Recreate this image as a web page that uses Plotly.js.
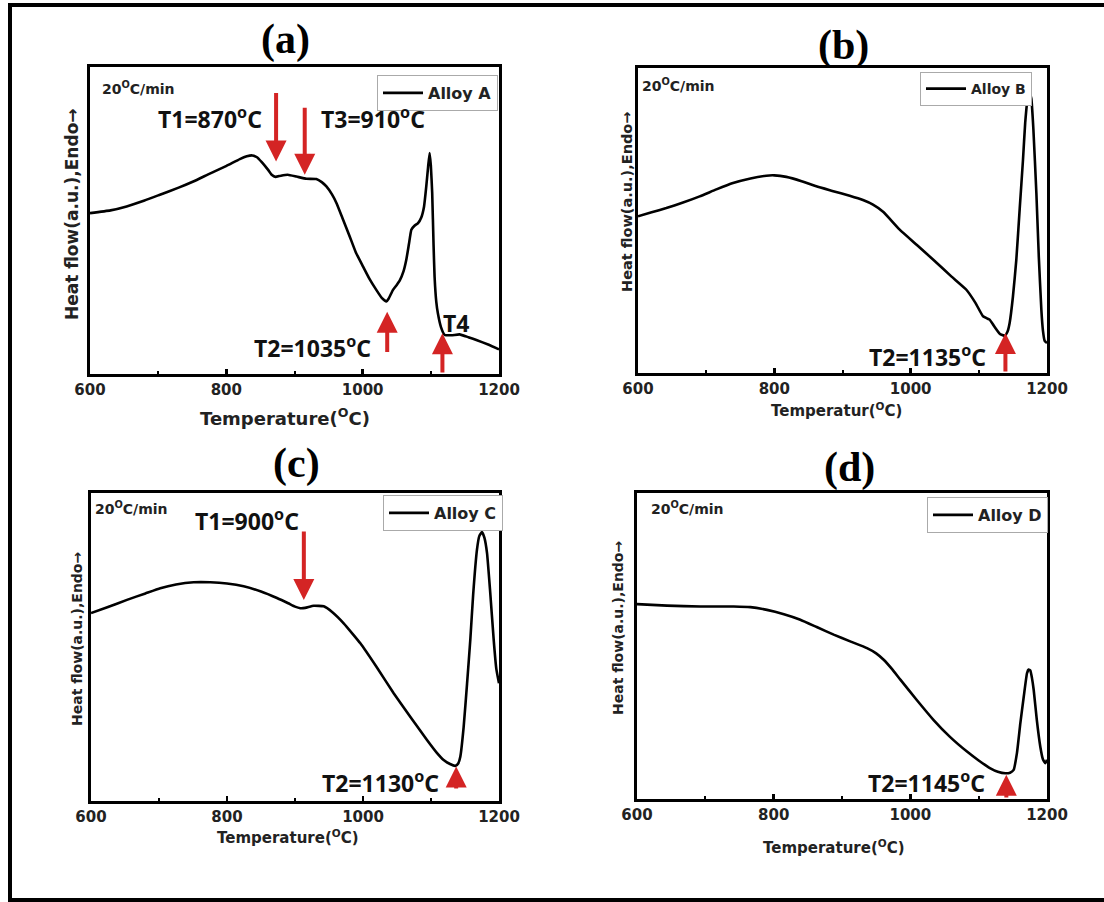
<!DOCTYPE html>
<html>
<head>
<meta charset="utf-8">
<script src="https://cdn.plot.ly/plotly-3.0.1.min.js"></script>
<style>
html,body{margin:0;padding:0;background:#fff;}
#chart{width:1104px;height:902px;}
</style>
</head>
<body>
<div id="chart"></div>
<script>
// ---------- DATA ----------
const tempA = [600,630,653.7,680,702.6,730,751.5,775,800.3,819.8,830,838,845,852,861.3,867,872,880,890,903,917.6,932,940,946.8,955,961.5,970,981,990,1000.6,1010,1020,1028,1034.8,1038,1044.5,1050,1054.3,1060,1064,1068,1071.4,1076,1081,1086,1090,1093.3,1096,1098.2,1100,1102,1104,1105.5,1108,1110.4,1115,1120,1130,1142,1155,1166.8,1185,1200];
const heatA = [52.4,53.3,54.6,56.5,58.4,60.7,62.7,65.2,67.8,70,70.9,71.2,70.6,69,66.5,64.8,64.2,64.6,64.9,64.3,63.6,63.5,62.5,61.1,58.5,55.7,51,44.8,39.6,35,31,27.4,24.8,23.6,24.5,27.4,29,30.4,33.5,37.2,42.5,47,48.3,49.1,51,54.5,61.1,67.5,72,68,58.9,42,31.7,23.5,19.7,15.2,12.8,12.6,12.9,12,11.1,9.5,8];

const tempB = [600,620,641.6,665,690.5,715,739.4,765,788.3,800,817.6,840,861.6,885,910.5,930,944.7,960,983.9,1010,1032.8,1060,1081.7,1095,1106.1,1112,1115.9,1122,1130.6,1138,1142,1145.2,1150,1155,1160,1164.8,1168,1172.1,1174.5,1177,1180,1184.4,1188,1191.7,1194,1196.6,1200];
const heatB = [51.4,52.7,54.1,55.8,57.9,60.2,62.3,63.8,64.7,64.8,64.3,62.9,61.2,59.7,58.1,56.7,55.2,52.8,47,41.8,37.2,31.6,27.3,23,18.6,17.9,17.5,15.5,12.9,12.2,13.5,16.4,25,37.2,54,70,82,90.7,91.8,90,80,59,38,20.8,14,10.5,9.8];

const tempC = [600,625,652.9,680,701.9,725,750.9,775.5,800,824.5,850,873.5,890,900,907.8,915,927.5,942.2,955,971.6,985,996.1,1020,1045.1,1070,1094.1,1108,1118.6,1128,1135.8,1140,1143.1,1148,1153,1157.8,1162,1167.6,1171,1175,1178.5,1182.4,1187,1192.2,1196,1200];
const heatC = [61,63,65.3,67.4,69.1,70.3,71,71,70.6,69.7,68,65.9,64.2,63.1,62.6,62.7,63.4,63.2,61.3,57.7,54.2,51.2,43.5,35,27.2,19.8,15.8,13.3,12,11.4,12.2,14.4,24,38,52.3,67,81.6,86,87.3,85.5,80.5,68,52.3,43,38.2];

const tempD = [600,643.9,692.7,741.5,765.9,790.2,815,839,863,887.8,912,936.6,950,961,973,985.4,1010,1034.1,1058,1082.9,1100,1117.1,1128,1139,1146,1151.2,1156,1161,1166,1170.7,1173,1175.6,1178,1180.5,1185,1190.2,1194,1197.6,1200];
const heatD = [63.7,63.2,62.9,62.9,62.7,61.8,60.4,58.6,56.2,53.7,51.5,49.3,47.6,45.5,42.5,39,32.2,25.8,20.3,15.5,12.6,10,8.9,8.4,8.6,9.5,15,24.8,33.5,41.1,42.3,42,39.5,35.7,26,17.1,13,11.7,12.8];

const alloyNames = ['Alloy A','Alloy B','Alloy C','Alloy D'];
const panelLabels = ['(a)','(b)','(c)','(d)'];
const xTitles = ['Temperature(<sup>O</sup>C)','Temperatur(<sup>O</sup>C)','Temperature(<sup>O</sup>C)','Temperature(<sup>O</sup>C)'];
const yTitle = 'Heat flow(a.u.),Endo\u2192';
const rateText = '20<sup>O</sup>C/min';
const xTickVals = [600,800,1000,1200];
const xMinorVals = [700,900,1100];

// transition markers: panel index, arrow tip (x,y), arrow tail y
const markPanel = [0,0,0,0,1,2,2,3];
const markTipX  = [873,915,1036,1117,1139,913,1137,1140.5];
const markTipY  = [69.2,64.9,20.3,13.3,13.1,65.3,11.2,7.9];
const markTailY = [92,87.2,6.7,0,0,88,3.6,0];

const labelPanel = [0,0,0,0,1,2,2,3];
const labelText  = ['T1=870<sup>o</sup>C','T3=910<sup>o</sup>C','T2=1035<sup>o</sup>C','T4','T2=1135<sup>o</sup>C','T1=900<sup>o</sup>C','T2=1130<sup>o</sup>C','T2=1145<sup>o</sup>C'];
const labelX     = [776,1015,927,1137,1025,830,1025.5,1024];
const labelY     = [83.4,83.4,8.9,16.5,5.5,91.3,6.3,5.7];

// ---------- LAYOUT ----------
const W = 1104, H = 902;
const px2x = p => p / W;
const px2y = p => 1 - p / H;

const boxes = [ // pixel boxes of plot areas [left, right, top, bottom]
  [90, 499, 67, 374],
  [638, 1047, 68, 373],
  [91, 499, 493, 801],
  [637, 1047, 493, 799]
];
const tickFont = [15,15,15,15];
const xTitleFont = [18,15,15,15];
const yTitleFont = [17,14.5,14,14];
const xTitlePos = [[285,417],[836,410],[288,837],[834,847]];
const yTitlePos = [[72,214],[627,202],[77,639],[618,628]];
const rateX = [614,603,603,617];
const rateY = [93.2,94.4,95.1,95.1];
const legendPos = [[377,75],[920,72],[383,495],[927,497]];
const legendFont = [16,14,16,16];
const panelPos = [[285,40],[843,45],[297,463],[849,468]];

const allX = [tempA,tempB,tempC,tempD];
const allY = [heatA,heatB,heatC,heatD];

const traces = [];
const layout = {
  width: W, height: H,
  margin: {l:0, r:0, t:0, b:0},
  paper_bgcolor: '#fff', plot_bgcolor: '#fff',
  font: {family: 'DejaVu Sans', color: '#111'},
  showlegend: true,
  annotations: [],
  shapes: [{
    type:'rect', xref:'paper', yref:'paper',
    x0: px2x(10), x1: px2x(1110), y0: px2y(900), y1: px2y(5),
    line:{color:'#000', width:4}, fillcolor:'rgba(0,0,0,0)'
  }]
};

for (let i = 0; i < 4; i++) {
  const s = i === 0 ? '' : String(i + 1);
  const b = boxes[i];
  const lg = i === 0 ? 'legend' : 'legend' + (i + 1);
  const tr = {
    x: allX[i], y: allY[i], type: 'scatter', mode: 'lines',
    name: alloyNames[i], showlegend: true,
    xaxis: 'x' + s, yaxis: 'y' + s,
    line: {color: '#000', width: 2.6, shape: 'spline', smoothing: 0.4},
    hoverinfo: 'skip'
  };
  if (i > 0) tr.legend = lg;
  traces.push(tr);
  layout['xaxis' + s] = {
    domain: [px2x(b[0]), px2x(b[1])], anchor: 'y' + s,
    range: [600, 1200], tickvals: xTickVals,
    ticks: 'inside', ticklen: 5, tickwidth: 2.5, tickcolor: '#000',
    minor: {tickvals: xMinorVals, ticks: 'inside', ticklen: 3, tickwidth: 2, tickcolor:'#000'},
    showline: true, mirror: true, linecolor: '#000', linewidth: 3,
    showgrid: false, zeroline: false,
    tickfont: {family: 'DejaVu Sans', size: tickFont[i], weight: 'bold', color: '#222'}
  };
  layout['yaxis' + s] = {
    domain: [px2y(b[3]), px2y(b[2])], anchor: 'x' + s,
    range: [0, 100], showticklabels: false, ticks: '',
    showline: true, mirror: true, linecolor: '#000', linewidth: 3,
    showgrid: false, zeroline: false
  };
  layout[lg] = {
    x: px2x(legendPos[i][0]), y: px2y(legendPos[i][1]),
    xanchor: 'left', yanchor: 'top',
    bgcolor: '#fff', bordercolor: '#aaa', borderwidth: 1,
    font: {family: 'DejaVu Sans', size: legendFont[i], weight: 'bold', color: '#222'},
    itemwidth: 40, tracegroupgap: 0
  };
  // axis titles
  layout.annotations.push({
    xref: 'paper', yref: 'paper', x: px2x(xTitlePos[i][0]), y: px2y(xTitlePos[i][1]),
    xanchor: 'center', yanchor: 'middle', showarrow: false,
    text: xTitles[i], font: {family: 'DejaVu Sans', size: xTitleFont[i], weight: 'bold', color: '#222'}
  });
  layout.annotations.push({
    xref: 'paper', yref: 'paper', x: px2x(yTitlePos[i][0]), y: px2y(yTitlePos[i][1]),
    xanchor: 'center', yanchor: 'middle', showarrow: false, textangle: -90,
    text: yTitle, font: {family: 'DejaVu Sans', size: yTitleFont[i], weight: 'bold', color: '#222'}
  });
  // rate text
  layout.annotations.push({
    xref: 'x' + s, yref: 'y' + s, x: rateX[i], y: rateY[i],
    xanchor: 'left', yanchor: 'middle', showarrow: false,
    text: rateText, font: {family: 'DejaVu Sans', size: 14, weight: 'bold', color: '#222'}
  });
  // panel label
  layout.annotations.push({
    xref: 'paper', yref: 'paper', x: px2x(panelPos[i][0]), y: px2y(panelPos[i][1]),
    xanchor: 'center', yanchor: 'middle', showarrow: false,
    text: panelLabels[i], font: {family: 'Liberation Serif', size: 42, weight: 'bold', color: '#000'}
  });
}

// arrows
for (let k = 0; k < markPanel.length; k++) {
  const s = markPanel[k] === 0 ? '' : String(markPanel[k] + 1);
  layout.annotations.push({
    xref: 'x' + s, yref: 'y' + s, axref: 'x' + s, ayref: 'y' + s,
    x: markTipX[k], y: markTipY[k], ax: markTipX[k], ay: markTailY[k],
    text: '', showarrow: true, arrowhead: 2, arrowsize: 1.05, arrowwidth: 4,
    arrowcolor: '#d42424', standoff: 0, startstandoff: 0
  });
}
// labels
for (let k = 0; k < labelPanel.length; k++) {
  const s = labelPanel[k] === 0 ? '' : String(labelPanel[k] + 1);
  layout.annotations.push({
    xref: 'x' + s, yref: 'y' + s, x: labelX[k], y: labelY[k],
    xanchor: 'center', yanchor: 'middle', showarrow: false,
    text: labelText[k], font: {family: 'Noto Sans', size: 23, weight: 'bold', color: '#111'}
  });
}

Plotly.newPlot('chart', traces, layout, {staticPlot: true, displayModeBar: false});
</script>
</body>
</html>
